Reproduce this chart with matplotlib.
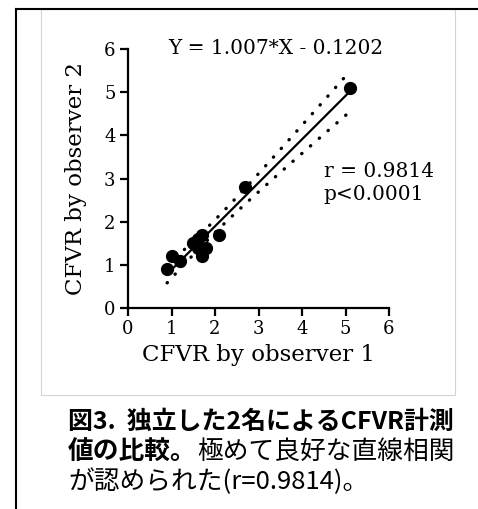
import numpy as np
import matplotlib.pyplot as plt
from matplotlib.lines import Line2D
from matplotlib.patches import Rectangle

# CFVR readings (observer 1 vs observer 2)
obs1 = [0.9, 1.0, 1.2, 1.5, 1.6, 1.6, 1.7, 1.7, 1.8, 2.1, 2.7, 5.1]
obs2 = [0.9, 1.2, 1.1, 1.5, 1.4, 1.6, 1.7, 1.2, 1.4, 1.7, 2.8, 5.1]
slope = 1.007
intercept = -0.1202
ticks = [0, 1, 2, 3, 4, 5, 6]

cap1 = "図3.  独立した2名によるCFVR計測"
cap2b = "値の比較。"
cap2 = "極めて良好な直線相関"
cap3 = "が認められた(r=0.9814)。"

x = np.array(obs1)
y = np.array(obs2)
n = len(x)
xx = np.linspace(x.min(), x.max(), 100)
yy = slope * xx + intercept
res = y - (slope * x + intercept)
s = np.sqrt(np.sum(res**2) / (n - 2))
sxx = np.sum((x - x.mean())**2)
t = 2.228
band = t * s * np.sqrt(1.0 / n + (xx - x.mean())**2 / sxx)

fig = plt.figure(figsize=(4.78, 5.09), dpi=100)
W, H = 478, 509

# picture frame
fig.add_artist(Rectangle((41 / W, 1 - 395 / H), (455 - 41) / W, (395 - 9) / H,
                         transform=fig.transFigure, fill=False, ec="#d4d4d4", lw=0.8))
fig.add_artist(Line2D([16 / W, 16 / W], [0, 1 - 9 / H], transform=fig.transFigure, color="black", lw=1.5))
fig.add_artist(Line2D([16 / W, 1], [1 - 9 / H, 1 - 9 / H], transform=fig.transFigure, color="black", lw=1.5))

ax = fig.add_axes([128 / W, 1 - 308 / H, (389 - 128) / W, (308 - 49) / H])
ser = "DejaVu Serif"
ax.plot(xx, yy, color="black", lw=1.6)
ax.plot(xx, yy + band, color="black", lw=2.4, ls=(0, (0.1, 3.4)), dash_capstyle="round")
ax.plot(xx, yy - band, color="black", lw=2.4, ls=(0, (0.1, 3.4)), dash_capstyle="round")
ax.plot(x, y, "o", color="black", ms=8.5, zorder=3)

ax.set_xlim(0, 6)
ax.set_ylim(0, 6)
ax.set_xticks(ticks)
ax.set_yticks(ticks)
ax.set_xticklabels([str(v) for v in ticks], family=ser, fontsize=13)
ax.set_yticklabels([str(v) for v in ticks], family=ser, fontsize=13)
ax.spines["top"].set_visible(False)
ax.spines["right"].set_visible(False)
ax.spines["left"].set_linewidth(1.6)
ax.spines["bottom"].set_linewidth(1.6)
ax.tick_params(width=1.6, length=6, pad=3)
ax.set_xlabel("CFVR by observer 1", family=ser, fontsize=16.5, labelpad=4)
ax.set_ylabel("CFVR by observer 2", family=ser, fontsize=16.5, labelpad=12)

ax.text(3.4, 6.0, "Y = 1.007*X - 0.1202", family=ser, fontsize=14.5, ha="center", va="center")
ax.text(4.5, 2.9, "r = 0.9814\np<0.0001", family=ser, fontsize=14.5, ha="left", va="center",
        linespacing=1.3)

cjk = ["Noto Sans CJK JP", "DejaVu Sans"]
x0 = 68 / W
fs = 18.5
t1 = fig.text(x0, 1 - 422 / H, cap1, family=cjk, fontsize=fs, weight="bold", va="center")
tb = fig.text(x0, 1 - 452 / H, cap2b, family=cjk, fontsize=fs, weight="bold", va="center")
fig.canvas.draw()
w1 = t1.get_window_extent().width
if w1 > 387:
    t1.set_fontsize(fs * 387 / w1)
bb = tb.get_window_extent()
fig.text(bb.x1 / W, 1 - 452 / H, cap2, family=cjk, fontsize=fs, va="center")
fig.text(x0, 1 - 482 / H, cap3, family=cjk, fontsize=fs, va="center")

fig.savefig("out.png", dpi=100)
